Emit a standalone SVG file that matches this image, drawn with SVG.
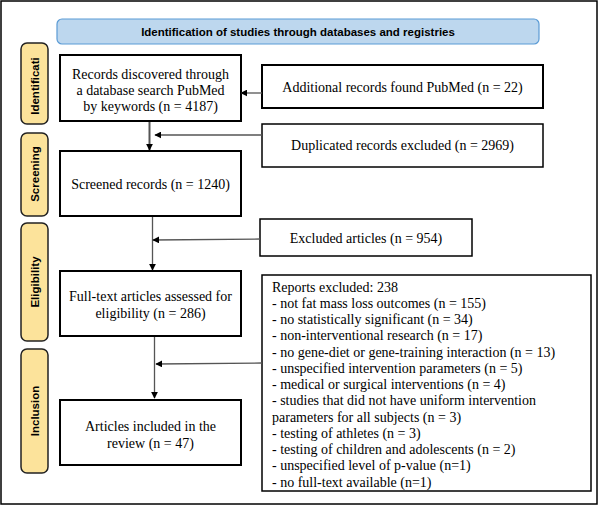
<svg xmlns="http://www.w3.org/2000/svg" width="599" height="508" viewBox="0 0 599 508">
<style>
.box{fill:#fff;stroke:#000;stroke-width:2}
.side{fill:#FCE39B;stroke:#222;stroke-width:1.5}
.st{font-family:"Liberation Sans",Arial,sans-serif;font-weight:bold;font-size:11.5px;fill:#000;text-anchor:middle}
.t{font-family:"Liberation Serif","Times New Roman",serif;font-size:14px;fill:#000}
.c{text-anchor:middle}
.ln{stroke:#555;stroke-width:1.3;fill:none}
</style>
<defs>
<marker id="ah" viewBox="0 0 10 10" refX="9" refY="5" markerWidth="7" markerHeight="7" markerUnits="userSpaceOnUse" orient="auto">
<path d="M0,0 L10,5 L0,10 z" fill="#000"/>
</marker>
</defs>
<rect x="1" y="1" width="596" height="503" fill="#fff" stroke="#000" stroke-width="1.5"/>
<g id="header">
<rect x="57" y="19" width="482" height="25" rx="5" fill="#BDD7EE" stroke="#5B9BD5" stroke-width="1.2"/>
<text class="st" x="298" y="35.5">Identification of studies through databases and registries</text>
</g>
<g id="side-identification">
<rect class="side" x="21" y="43" width="27" height="81" rx="6"/>
<text class="st" transform="translate(38.5,86) rotate(-90)">Identificati</text>
</g>
<g id="side-screening">
<rect class="side" x="21" y="133" width="27" height="83" rx="6"/>
<text class="st" transform="translate(38.5,174) rotate(-90)">Screening</text>
</g>
<g id="side-eligibility">
<rect class="side" x="21" y="223" width="27" height="118" rx="6"/>
<text class="st" transform="translate(38.5,282) rotate(-90)">Eligibility</text>
</g>
<g id="side-inclusion">
<rect class="side" x="21" y="349" width="27" height="124" rx="6"/>
<text class="st" transform="translate(38.5,411) rotate(-90)">Inclusion</text>
</g>
<g id="records">
<rect class="box" x="60" y="55" width="181" height="66"/>
<text class="t c" x="150.5" y="78.5">Records discovered through</text>
<text class="t c" x="150.5" y="94.5">a database search PubMed</text>
<text class="t c" x="150.5" y="110.5">by keywords (n = 4187)</text>
</g>
<g id="additional">
<rect class="box" x="262" y="65" width="281" height="43"/>
<text class="t c" x="402.5" y="92">Additional records found PubMed (n = 22)</text>
</g>
<g id="duplicated">
<rect class="box" x="262" y="124" width="281" height="43" style="stroke-width:1.5"/>
<text class="t c" x="402.5" y="149.5">Duplicated records excluded (n = 2969)</text>
</g>
<g id="screened">
<rect class="box" x="60" y="151" width="181" height="65"/>
<text class="t c" x="150.5" y="189">Screened records (n = 1240)</text>
</g>
<g id="excluded">
<rect class="box" x="260" y="219" width="212" height="37" style="stroke-width:1.5"/>
<text class="t c" x="366" y="242.5">Excluded articles (n = 954)</text>
</g>
<g id="fulltext">
<rect class="box" x="60" y="271" width="181" height="65"/>
<text class="t c" x="150.5" y="300.5">Full-text articles assessed for</text>
<text class="t c" x="150.5" y="317.5">eligibility (n = 286)</text>
</g>
<g id="reports">
<rect class="box" x="262" y="275" width="329" height="216" style="stroke-width:1.5"/>
<text class="t">
<tspan x="272" y="291.5">Reports excluded: 238</tspan>
<tspan x="272" y="307.75">- not fat mass loss outcomes (n = 155)</tspan>
<tspan x="272" y="324">- no statistically significant (n = 34)</tspan>
<tspan x="272" y="340.25">- non-interventional research (n = 17)</tspan>
<tspan x="272" y="356.5">- no gene-diet or gene-training interaction (n = 13)</tspan>
<tspan x="272" y="372.75">- unspecified intervention parameters (n = 5)</tspan>
<tspan x="272" y="389">- medical or surgical interventions (n = 4)</tspan>
<tspan x="272" y="405.25">- studies that did not have uniform intervention</tspan>
<tspan x="272" y="421.5">parameters for all subjects (n = 3)</tspan>
<tspan x="272" y="437.75">- testing of athletes (n = 3)</tspan>
<tspan x="272" y="454">- testing of children and adolescents (n = 2)</tspan>
<tspan x="272" y="470.25">- unspecified level of p-value (n=1)</tspan>
<tspan x="272" y="486.5">- no full-text available (n=1)</tspan>
</text>
</g>
<g id="included">
<rect class="box" x="60" y="400" width="181" height="65"/>
<text class="t c" x="150.5" y="430.5">Articles included in the</text>
<text class="t c" x="150.5" y="447.5">review (n = 47)</text>
</g>
<g id="connectors">
<line class="ln" x1="262" y1="93" x2="241" y2="93" marker-end="url(#ah)"/>
<line class="ln" x1="149.5" y1="122" x2="149.5" y2="150" marker-end="url(#ah)" style="stroke-width:2"/>
<line class="ln" x1="262" y1="135" x2="155" y2="135" marker-end="url(#ah)"/>
<line class="ln" x1="152.5" y1="217" x2="152.5" y2="270" marker-end="url(#ah)"/>
<line class="ln" x1="260" y1="239" x2="153" y2="240" marker-end="url(#ah)"/>
<line class="ln" x1="154.5" y1="337" x2="154.5" y2="398" marker-end="url(#ah)"/>
<line class="ln" x1="262" y1="363" x2="156" y2="364" marker-end="url(#ah)"/>
</g>
</svg>
